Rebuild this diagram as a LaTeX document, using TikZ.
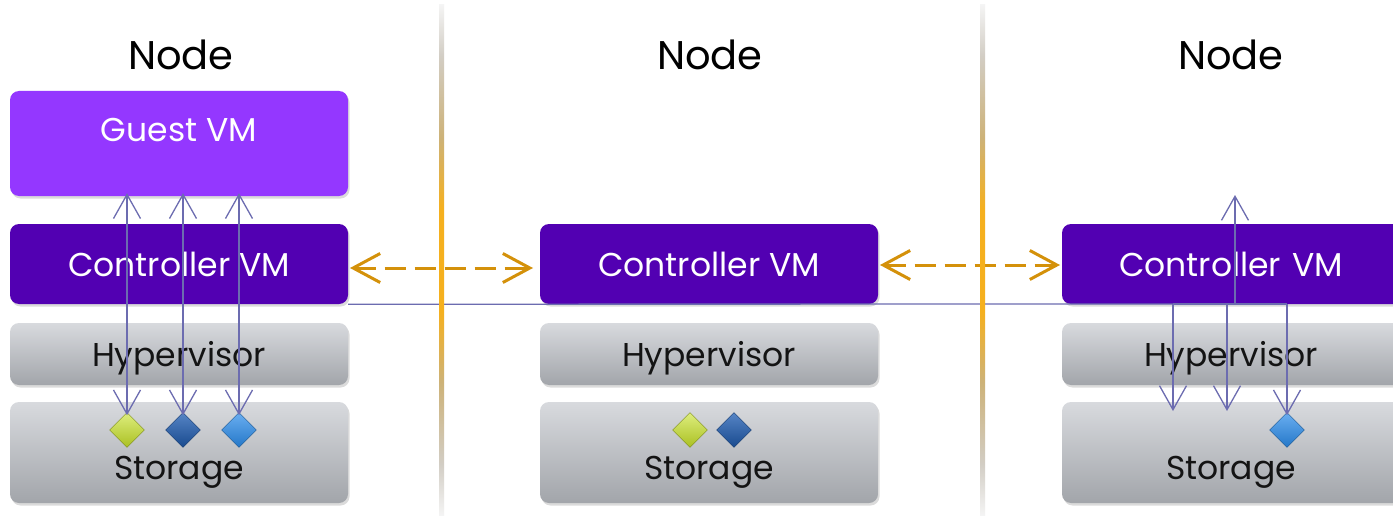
\documentclass[tikz,border=0pt]{standalone}
\usepackage{fontspec}
\setmainfont{Poppins}
\usetikzlibrary{arrows.meta,shapes.geometric,shadows}
\definecolor{guestc}{RGB}{148,55,255}
\definecolor{ctrlc}{RGB}{82,0,178}
\definecolor{graytop}{RGB}{216,218,222}
\definecolor{graybot}{RGB}{162,165,170}
\definecolor{linec}{RGB}{108,108,176}
\definecolor{orangec}{RGB}{212,145,10}
\definecolor{goldc}{RGB}{245,176,30}
\definecolor{fadec}{RGB}{244,244,244}
\definecolor{grayc}{RGB}{210,205,196}
\definecolor{tanc}{RGB}{205,178,120}
\definecolor{ygc}{RGB}{200,226,40}
\definecolor{dbc}{RGB}{30,92,178}
\definecolor{lbc}{RGB}{42,140,235}
\definecolor{textc}{RGB}{20,20,20}
\pgfdeclareverticalshading{divshade}{100bp}{color(0bp)=(fadec); color(25bp)=(fadec); color(30bp)=(grayc); color(38bp)=(tanc); color(45bp)=(goldc); color(55bp)=(goldc); color(62bp)=(tanc); color(70bp)=(grayc); color(75bp)=(fadec); color(100bp)=(fadec)}
\tikzset{
  box/.style={rectangle, rounded corners=9pt, minimum width=338pt, inner sep=0pt,
    drop shadow={opacity=0.28, shadow xshift=1.5pt, shadow yshift=-2.5pt}},
  guestbox/.style={box, fill=guestc, minimum height=105pt},
  ctrlbox/.style={box, fill=ctrlc, minimum height=80pt, text=white, font=\fontsize{33}{36}\selectfont},
  hypbox/.style={box, top color=graytop, bottom color=graybot, minimum height=62pt, text=textc, text depth=0pt, font=\fontsize{33}{36}\selectfont},
  storbox/.style={box, top color=graytop, bottom color=graybot, minimum height=101pt},
  title/.style={font=\fontsize{40}{44}\selectfont, text=black},
  wtext/.style={font=\fontsize{33}{36}\selectfont, text=white},
  btext/.style={font=\fontsize{33}{36}\selectfont, text=textc, text depth=0pt},
  gem/.style={diamond, aspect=1, minimum width=35pt, minimum height=35pt, inner sep=0pt},
  vline/.style={draw=linec, line width=1.3pt},
  barb/.style={-{Straight Barb[length=24pt,width=27pt]}},
  barbs/.style={{Straight Barb[length=24pt,width=27pt]}-{Straight Barb[length=24pt,width=27pt]}},
  oarrow/.style={draw=orangec, line width=3pt, dash pattern=on 21pt off 9pt,
    {Straight Barb[length=27pt,width=29pt]}-{Straight Barb[length=27pt,width=29pt]}},
  divider/.style={shading=divshade}
}
\begin{document}
\begin{tikzpicture}[x=1pt,y=-1pt]
\useasboundingbox (0,0) rectangle (1393,519);
\clip (0,0) rectangle (1393,519);
\fill[white] (0,0) rectangle (1393,519);

% titles
\node[title] (t1) at (181,55) {Node};
\node[title] (t2) at (710,55) {Node};
\node[title] (t3) at (1231,55) {Node};

% left column
\node[guestbox] (guest) at (179,143.5) {};
\node[wtext] (guestt) at (179,130) {Guest VM};
\node[ctrlbox] (ctrlL) at (179,264) {Controller VM};
\node[hypbox] (hypL) at (179,354) {Hypervisor};
\node[storbox] (storL) at (179,452.5) {};
\node[btext] (storLt) at (179,468) {Storage};

% middle column
\node[ctrlbox] (ctrlM) at (709,264) {Controller VM};
\node[hypbox] (hypM) at (709,354) {Hypervisor};
\node[storbox] (storM) at (709,452.5) {};
\node[btext] (storMt) at (709,468) {Storage};

% right column
\node[ctrlbox, minimum width=348pt, text width=338pt, align=center] (ctrlR) at (1236,264) {\hspace*{-10pt}Controller VM};
\node[hypbox, minimum width=348pt] (hypR) at (1236,354) {};
\node[btext] (hypRt) at (1231,354) {Hypervisor};
\node[storbox, minimum width=348pt] (storR) at (1236,452.5) {};
\node[btext] (storRt) at (1231,468) {Storage};

% diamonds
\node[gem, top color=ygc!60!white, bottom color=ygc!85!black, draw=ygc!60!black, line width=0.4pt] (dL1) at (127,430) {};
\node[gem, top color=dbc!75!white, bottom color=dbc!80!black, draw=dbc!60!black, line width=0.4pt] (dL2) at (183,430) {};
\node[gem, top color=lbc!70!white, bottom color=lbc!85!black, draw=lbc!60!black, line width=0.4pt] (dL3) at (239,430) {};
\node[gem, top color=ygc!60!white, bottom color=ygc!85!black, draw=ygc!60!black, line width=0.4pt] (dM1) at (690,430) {};
\node[gem, top color=dbc!75!white, bottom color=dbc!80!black, draw=dbc!60!black, line width=0.4pt] (dM2) at (734,430) {};
\node[gem, top color=lbc!70!white, bottom color=lbc!85!black, draw=lbc!60!black, line width=0.4pt] (dR1) at (1287,430) {};

% left vertical double arrows
\foreach \d in {dL1,dL2,dL3}{
  \draw[vline, barbs, shorten <=-3pt, shorten >=-3pt] (\d.north) -- (\d.north |- guest.south);
}

% long horizontal line and right side
\coordinate (jR) at (1235,304);
\coordinate (upR) at (1235,195);
\coordinate (a1) at (1173,304);
\coordinate (a2) at (1227,304);
\coordinate (b1) at (1173,411);
\coordinate (b2) at (1227,411);
\draw[vline] (ctrlL.south east) -- (jR);
\draw[vline, barb] (jR) -- (upR);
\draw[vline] (a1) -- (dR1.north |- a1);
\draw[vline, barb] (a1) -- (b1);
\draw[vline, barb] (a2) -- (b2);
\draw[vline, barb, shorten >=-3pt] (dR1.north |- a1) -- (dR1.north);

% orange dashed arrows
\coordinate (o1) at (350,268);
\coordinate (o2) at (533,268);
\coordinate (o3) at (880,265);
\coordinate (o4) at (1060,265);
\draw[oarrow] (o1) -- (o2);
\draw[oarrow] (o3) -- (o4);

% dividers
\shade[divider] (439,5) rectangle (444,515);
\shade[divider] (980,5) rectangle (985,515);
\end{tikzpicture}
\end{document}
